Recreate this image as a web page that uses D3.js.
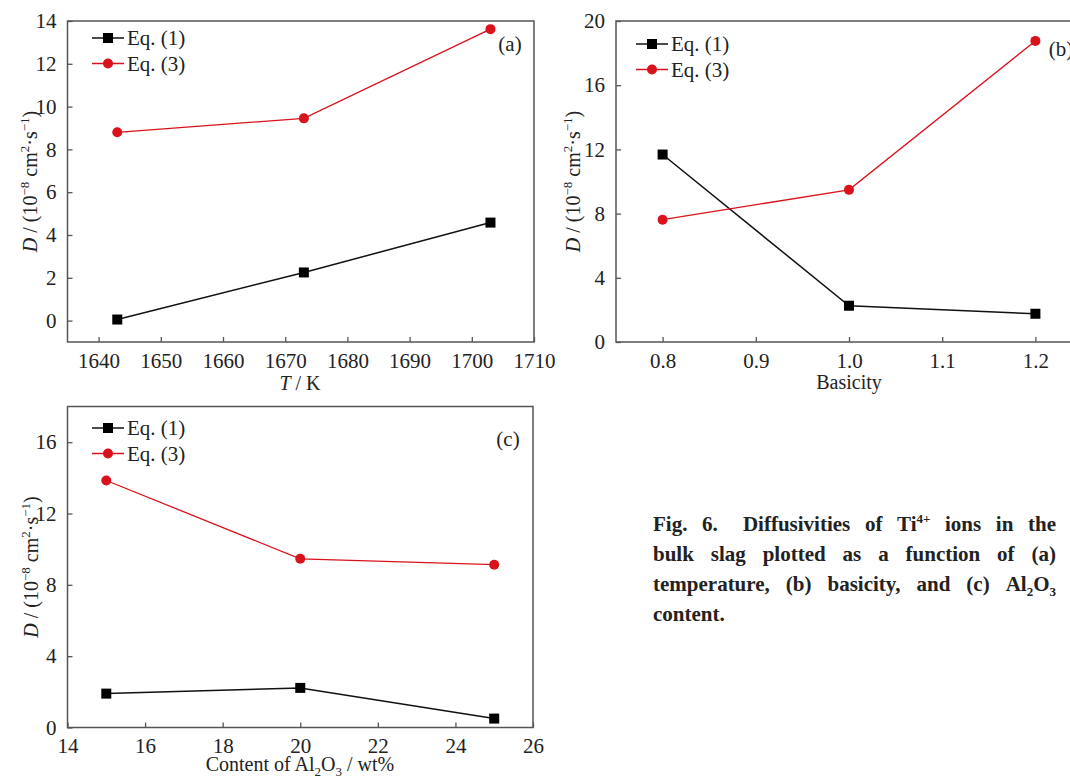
<!DOCTYPE html>
<html>
<head>
<meta charset="utf-8">
<script src="https://cdn.jsdelivr.net/npm/d3@7"></script>
<style>
  body { margin: 0; background: #fff; }
  svg text { font-family: "Liberation Serif", "Times New Roman", serif; fill: #222; }
</style>
</head>
<body>
<div id="chart"></div>
<script>
// values
let tempK = [1643, 1673, 1703];
let tempEq1 = [0.05, 2.25, 4.58];
let tempEq3 = [8.8, 9.45, 13.62];

let basicity = [0.8, 1.0, 1.2];
let basEq1 = [11.68, 2.26, 1.76];
let basEq3 = [7.62, 9.48, 18.76];

let al2o3 = [15, 20, 25];
let alEq1 = [1.9, 2.22, 0.5];
let alEq3 = [13.85, 9.46, 9.13];

let tempTicks = [1640, 1650, 1660, 1670, 1680, 1690, 1700, 1710];
let basTicksX = [0.8, 0.9, 1.0, 1.1, 1.2];
let alTicksX = [14, 16, 18, 20, 22, 24, 26];
let tempTicksY = [0, 2, 4, 6, 8, 10, 12, 14];
let ticks0to20 = [0, 4, 8, 12, 16, 20];
let ticks0to16 = [0, 4, 8, 12, 16];

let seriesNames = ['Eq. (1)', 'Eq. (3)'];

let W = 1070, H = 778;
let red = '#d9121b';
let axisCol = '#555';
let serif = '"Liberation Serif", "Times New Roman", serif';

let svg = d3.select('#chart').append('svg')
  .attr('width', W).attr('height', H)
  .attr('font-family', serif);

// panel layout
let panels = [
  { x: tempK, s1: tempEq1, s3: tempEq3, xdom: [1635, 1710], ydom: [-1, 14],
    xr: [67.5, 534], yr: [342, 21], xt: tempTicks, yt: tempTicksY, xfmt: d3.format('d'),
    tag: '(a)', tagX: 510, tagY: 51, legX: 92, legY: 38, ylabX: 37, xlabY: 390, xlab: 'T' },
  { x: basicity, s1: basEq1, s3: basEq3, xdom: [0.75, 1.25], ydom: [0, 20],
    xr: [616, 1082], yr: [342, 21], xt: basTicksX, yt: ticks0to20, xfmt: d3.format('.1f'),
    tag: '(b)', tagX: 1061, tagY: 56, legX: 636, legY: 44, ylabX: 580, xlabY: 389, xlab: 'B' },
  { x: al2o3, s1: alEq1, s3: alEq3, xdom: [14, 26], ydom: [0, 18],
    xr: [67.5, 533], yr: [727.5, 406.5], xt: alTicksX, yt: ticks0to16, xfmt: d3.format('d'),
    tag: '(c)', tagX: 508, tagY: 446, legX: 92, legY: 428, ylabX: 38, xlabY: 771, xlab: 'C' }
];

panels.forEach(function(p) {
  let x = d3.scaleLinear().domain(p.xdom).range(p.xr);
  let y = d3.scaleLinear().domain(p.ydom).range(p.yr);
  let g = svg.append('g');

  // frame
  g.append('rect')
    .attr('x', p.xr[0]).attr('y', p.yr[1])
    .attr('width', p.xr[1] - p.xr[0]).attr('height', p.yr[0] - p.yr[1])
    .attr('fill', 'none').attr('stroke', axisCol).attr('stroke-width', 1.5);

  // axes with inward ticks
  let xa = g.append('g').attr('transform', 'translate(0,' + p.yr[0] + ')')
    .call(d3.axisBottom(x).tickValues(p.xt).tickFormat(p.xfmt).tickSizeInner(-5).tickSizeOuter(0).tickPadding(11));
  let ya = g.append('g').attr('transform', 'translate(' + p.xr[0] + ',0)')
    .call(d3.axisLeft(y).tickValues(p.yt).tickSizeInner(-5).tickSizeOuter(0).tickPadding(11));
  [xa, ya].forEach(function(a) {
    a.attr('font-family', serif).attr('font-size', 21);
    a.select('.domain').remove();
    a.selectAll('line').attr('stroke', axisCol).attr('stroke-width', 1.3);
    a.selectAll('text').attr('fill', '#222');
  });

  // lines
  let line = d3.line().x(function(d) { return x(d[0]); }).y(function(d) { return y(d[1]); });
  let d1 = p.x.map(function(v, i) { return [v, p.s1[i]]; });
  let d3s = p.x.map(function(v, i) { return [v, p.s3[i]]; });
  g.append('path').attr('d', line(d1)).attr('fill', 'none').attr('stroke', '#111').attr('stroke-width', 1.5);
  g.append('path').attr('d', line(d3s)).attr('fill', 'none').attr('stroke', red).attr('stroke-width', 1.3);
  g.selectAll('rect.m1').data(d1).enter().append('rect').attr('class', 'm1')
    .attr('x', function(d) { return x(d[0]) - 5; }).attr('y', function(d) { return y(d[1]) - 5; })
    .attr('width', 10).attr('height', 10).attr('fill', '#000');
  g.selectAll('circle.m3').data(d3s).enter().append('circle').attr('class', 'm3')
    .attr('cx', function(d) { return x(d[0]); }).attr('cy', function(d) { return y(d[1]); })
    .attr('r', 5).attr('fill', red);

  // legend
  seriesNames.forEach(function(name, i) {
    let ly = p.legY + i * 25.5;
    let col = i === 0 ? '#111' : red;
    g.append('line').attr('x1', p.legX).attr('x2', p.legX + 32).attr('y1', ly).attr('y2', ly)
      .attr('stroke', col).attr('stroke-width', 1.5);
    if (i === 0) {
      g.append('rect').attr('x', p.legX + 11).attr('y', ly - 5).attr('width', 10).attr('height', 10).attr('fill', '#000');
    } else {
      g.append('circle').attr('cx', p.legX + 16).attr('cy', ly).attr('r', 5).attr('fill', red);
    }
    g.append('text').attr('x', p.legX + 35).attr('y', ly + 7).style('font-size', '21px').text(name);
  });

  // panel tag
  g.append('text').attr('x', p.tagX).attr('y', p.tagY).attr('text-anchor', 'middle')
    .style('font-size', '21px').text(p.tag);

  // y label
  let yl = g.append('text')
    .attr('transform', 'translate(' + p.ylabX + ',' + ((p.yr[0] + p.yr[1]) / 2) + ') rotate(-90)')
    .attr('text-anchor', 'middle').style('font-size', '20px');
  yl.append('tspan').style('font-style', 'italic').text('D');
  yl.append('tspan').text(' / (10');
  yl.append('tspan').attr('dy', -8).style('font-size', '13px').text('\u22128');
  yl.append('tspan').attr('dy', 8).text(' cm');
  yl.append('tspan').attr('dy', -8).style('font-size', '13px').text('2');
  yl.append('tspan').attr('dy', 8).text('\u00b7s');
  yl.append('tspan').attr('dy', -8).style('font-size', '13px').text('\u22121');
  yl.append('tspan').attr('dy', 8).text(')');

  // x label
  let xl = g.append('text').attr('y', p.xlabY).attr('text-anchor', 'middle').style('font-size', '20px');
  if (p.xlab === 'T') {
    xl.attr('x', 300);
    xl.append('tspan').style('font-style', 'italic').text('T');
    xl.append('tspan').text(' / K');
  } else if (p.xlab === 'B') {
    xl.attr('x', 849).text('Basicity');
  } else {
    xl.attr('x', 300);
    xl.append('tspan').text('Content of Al');
    xl.append('tspan').attr('dy', 5).style('font-size', '13px').text('2');
    xl.append('tspan').attr('dy', -5).text('O');
    xl.append('tspan').attr('dy', 5).style('font-size', '13px').text('3');
    xl.append('tspan').attr('dy', -5).text(' / wt%');
  }
});

// caption, justified line by line
let capLines = [
  [[['Fig.']], [['6.']], [['\u2002Diffusivities']], [['of']], [['Ti'], ['4+', 'sup']], [['ions']], [['in']], [['the']]],
  [[['bulk']], [['slag']], [['plotted']], [['as']], [['a']], [['function']], [['of']], [['(a)']]],
  [[['temperature,']], [['(b)']], [['basicity,']], [['and']], [['(c)']], [['Al'], ['2', 'sub'], ['O'], ['3', 'sub']]],
  [[['content.']]]
];
let capLeft = 653, capRight = 1056, capY0 = 531, capDy = 30;
capLines.forEach(function(words, li) {
  let yb = capY0 + li * capDy;
  let nodes = words.map(function(w) {
    let t = svg.append('text').attr('y', yb).style('font-size', '21px').style('font-weight', 'bold');
    let shift = 0;
    w.forEach(function(seg) {
      let ts = t.append('tspan').text(seg[0]);
      let target = seg[1] === 'sup' ? -8 : seg[1] === 'sub' ? 5 : 0;
      if (seg[1]) ts.style('font-size', '13px');
      ts.attr('dy', target - shift);
      shift = target;
    });
    return t;
  });
  let widths = nodes.map(function(n) { return n.node().getComputedTextLength(); });
  let total = d3.sum(widths);
  let last = li === capLines.length - 1;
  let gap = (!last && nodes.length > 1) ? (capRight - capLeft - total) / (nodes.length - 1) : 5;
  let xx = capLeft;
  nodes.forEach(function(n, i) {
    n.attr('x', xx);
    xx += widths[i] + gap;
  });
});
</script>
</body>
</html>
